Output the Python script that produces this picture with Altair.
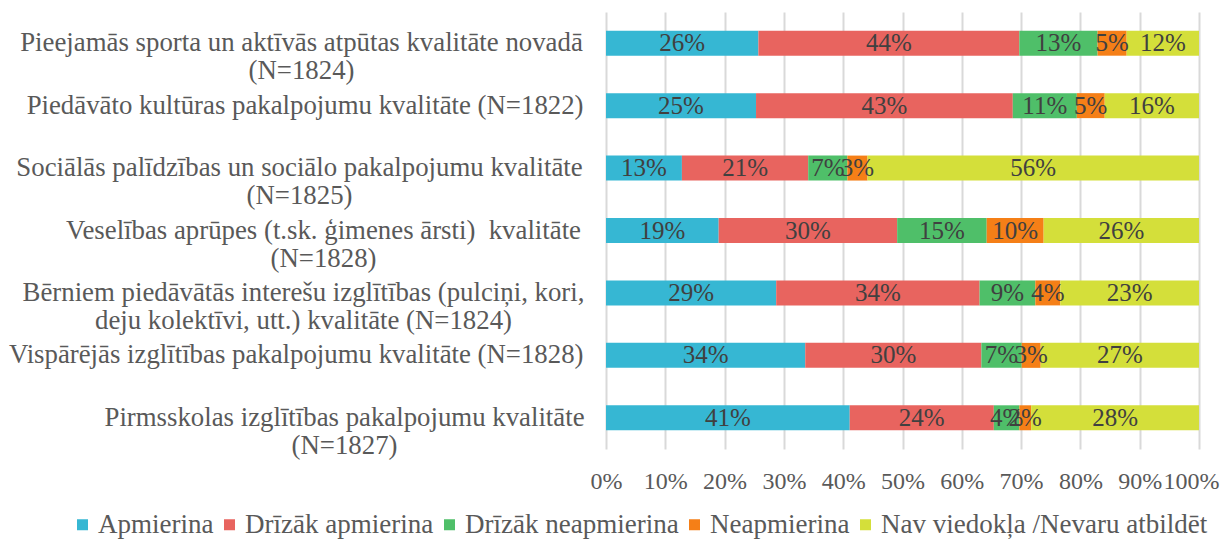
import altair as alt
import pandas as pd

categories = [
    "Pieejamās sporta un aktīvās atpūtas kvalitāte novadā|(N=1824)",
    "Piedāvāto kultūras pakalpojumu kvalitāte (N=1822)",
    "Sociālās palīdzības un sociālo pakalpojumu kvalitāte|(N=1825)",
    "Veselības aprūpes (t.sk. ģimenes ārsti)\u00a0 kvalitāte|(N=1828)",
    "Bērniem piedāvātās interešu izglītības (pulciņi, kori,|deju kolektīvi, utt.) kvalitāte (N=1824)",
    "Vispārējās izglītības pakalpojumu kvalitāte (N=1828)",
    "Pirmsskolas izglītības pakalpojumu kvalitāte|(N=1827)",
]
series = ["Apmierina", "Drīzāk apmierina", "Drīzāk neapmierina", "Neapmierina",
          "Nav viedokļa /Nevaru atbildēt"]
apmierina = [25.7, 25.3, 12.8, 19.0, 28.7, 33.6, 41.1]
drizak_apmierina = [44.0, 43.3, 21.3, 30.1, 34.3, 29.7, 24.3]
drizak_neapmierina = [13.2, 10.8, 6.6, 15.1, 9.4, 6.8, 4.3]
neapmierina = [4.9, 4.7, 3.4, 9.6, 4.2, 3.2, 2.0]
nav_viedokla = [12.2, 15.9, 55.9, 26.2, 23.4, 26.7, 28.3]
colors = ["#36B7D3", "#E8645F", "#4FBF69", "#F57F17", "#D4DF3A"]
x_ticks = [0, 10, 20, 30, 40, 50, 60, 70, 80, 90, 100]

# label placement (pixels left of the plot) for centred multi-line labels
label_pad = {
    categories[0]: 305,
    categories[2]: 307,
    categories[3]: 283,
    categories[4]: 303,
    categories[6]: 262,
}

cols = [apmierina, drizak_apmierina, drizak_neapmierina, neapmierina, nav_viedokla]
rows = []
for si, (s, vals) in enumerate(zip(series, cols)):
    for c, v in zip(categories, vals):
        rows.append({"cat": c, "series": s, "order": si, "value": v})
df = pd.DataFrame(rows)

FONT = "Liberation Serif"

base = alt.Chart(df).transform_stack(
    stack="value", groupby=["cat"], as_=["x0", "x1"],
    sort=[alt.SortField("order", order="ascending")]
).transform_calculate(
    mid="(datum.x0 + datum.x1) / 2",
    lbl="format(datum.value / 100, '.0%')"
)

y_enc = alt.Y(
    "cat:N", sort=categories, title=None,
    scale=alt.Scale(paddingInner=0.6, paddingOuter=0.3),
    axis=alt.Axis(
        labelExpr="split(datum.value, '|')",
        labelFont=FONT, labelFontSize=26.8, labelColor="#595959",
        labelLineHeight=28, ticks=False, domain=False, labelLimit=0,
        labelOverlap=False,
        labelAlign={"condition": [{"test": f"datum.value === '{k}'", "value": "center"} for k in label_pad],
                    "value": "right"},
        labelPadding={"condition": [{"test": f"datum.value === '{k}'", "value": v} for k, v in label_pad.items()],
                      "value": 23},
    ),
)

bars = base.mark_bar().encode(
    x=alt.X("x0:Q", scale=alt.Scale(domain=[0, 100], nice=False), title=None,
            axis=alt.Axis(values=x_ticks, labelExpr="datum.value + '%'", labelFont=FONT,
                          labelFontSize=24, labelColor="#595959", labelPadding=20,
                          labelOverlap=False, labelFlush=False,
                          labelOffset={"condition": {"test": "datum.value === 100", "value": -8},
                                       "value": 0},
                          ticks=False, domain=False, grid=True, gridColor="#D9D9D9",
                          gridWidth=2)),
    x2="x1:Q",
    y=y_enc,
    color=alt.Color("series:N", sort=series,
                    scale=alt.Scale(domain=series, range=colors),
                    legend=alt.Legend(title=None, orient="none", direction="horizontal",
                                      legendX=-537, legendY=499, symbolType="square",
                                      symbolSize=121, symbolStrokeWidth=0,
                                      labelFont=FONT, labelFontSize=27, labelColor="#595959",
                                      labelOffset=2, columnPadding=2, labelLimit=0)),
)

texts = base.mark_text(font=FONT, fontSize=25, color="#404040", baseline="middle").encode(
    x=alt.X("mid:Q"),
    y=alt.Y("cat:N", sort=categories),
    text="lbl:N",
)

chart = alt.layer(bars, texts).properties(
    width=593, height=437,
    autosize=alt.AutoSizeParams(type="none"),
    padding={"left": 598, "top": 4, "right": 21, "bottom": 90},
).configure_view(stroke=None)

chart.save("out.html", embed_options={"renderer": "svg", "actions": False})
